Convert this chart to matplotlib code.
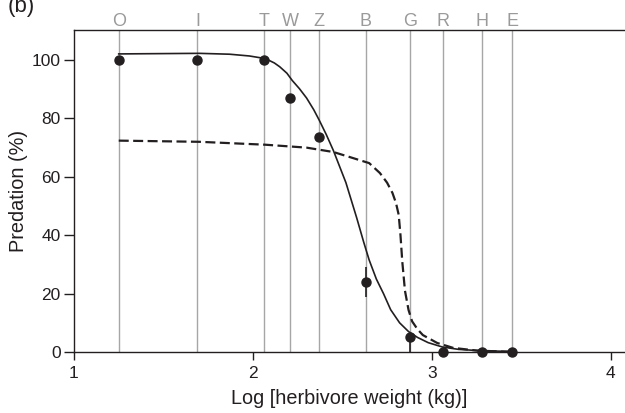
import matplotlib.pyplot as plt

plt.rcParams['font.family'] = ['Liberation Sans', 'DejaVu Sans']

# herbivore species (top letters) and their log body weight
species = ['O', 'I', 'T', 'W', 'Z', 'B', 'G', 'R', 'H', 'E']
log_weight = [1.25, 1.69, 2.06, 2.21, 2.37, 2.63, 2.88, 3.06, 3.28, 3.45]
predation = [100, 100, 100, 87, 73.5, 24, 5, 0, 0, 0]
err_low = [0, 0, 0, 0, 0, 5, 5, 0, 0, 0]
err_high = [0, 0, 0, 0, 0, 5, 0, 0, 0, 0]

# fitted curve (solid)
fit_x = [1.25, 1.70, 1.87, 1.98, 2.04, 2.08, 2.12, 2.15, 2.19, 2.22, 2.26,
         2.30, 2.34, 2.37, 2.41, 2.45, 2.52, 2.58, 2.62, 2.65, 2.69, 2.73,
         2.77, 2.82, 2.87, 2.92, 2.98, 3.06, 3.15, 3.28, 3.45]
fit_y = [102.1, 102.3, 102, 101.4, 100.8, 100.2, 99, 97.7, 95.5, 93, 90.2,
         87, 83, 79.5, 74.5, 69, 58, 46, 37.5, 31.5, 25, 20,
         14.5, 10, 7, 5, 3.2, 1.7, 0.9, 0.4, 0.2]

# model prediction (dashed)
model_x = [1.25, 1.70, 2.07, 2.30, 2.45, 2.54, 2.65, 2.71, 2.75, 2.78, 2.80,
           2.815, 2.825, 2.835, 2.85, 2.87, 2.89, 2.92, 2.95, 3.03, 3.12,
           3.25, 3.45]
model_y = [72.4, 72, 71, 70, 68.5, 66.8, 64.7, 61.3, 58, 54.5, 51,
           47, 40, 31, 21, 14.4, 10.5, 7.8, 5.8, 3.1, 1.4,
           0.5, 0]

ink = '#231f20'
grey = '#a6a6a6'

fig = plt.figure(figsize=(6.25, 4.13), dpi=100)
ax = fig.add_axes([0.1184, 0.1477, 0.8816, 0.7797])

ax.set_xlim(1, 4.08)
ax.set_ylim(0, 110.3)

for x, s in zip(log_weight, species):
    ax.axvline(x, color=grey, lw=1, zorder=1)
    ax.text(x, 111.7, s, color='#9a9a9a', fontsize=13,
            ha='center', va='baseline', clip_on=False)

ax.plot(fit_x, fit_y, color=ink, lw=1.2, zorder=3)
ax.plot(model_x, model_y, color=ink, lw=1.6, dashes=(4.5, 2), zorder=3)

ax.errorbar(log_weight, predation, yerr=[err_low, err_high], fmt='o',
            color=ink, ms=6.5, elinewidth=1.2, capsize=0, zorder=4,
            clip_on=False)

ax.spines['right'].set_visible(False)
for sp in ['left', 'top', 'bottom']:
    ax.spines[sp].set_color(ink)
    ax.spines[sp].set_linewidth(1.0)

ax.set_xticks([1, 2, 3, 4])
ax.set_yticks([0, 20, 40, 60, 80, 100])
ax.tick_params(direction='out', width=1, color=ink,
               labelsize=12.5, labelcolor=ink)
ax.tick_params(axis='x', length=6, pad=4)
ax.tick_params(axis='y', length=7.5, pad=2)

ax.set_xlabel('Log [herbivore weight (kg)]', fontsize=14.3, color=ink,
              labelpad=6)
ax.set_ylabel('Predation (%)', fontsize=14.3, color=ink, labelpad=3)

fig.text(0.012, 0.984, '(b)', fontsize=16, color=ink, va='center')

fig.savefig('out.png', dpi=100)
plt.close(fig)
